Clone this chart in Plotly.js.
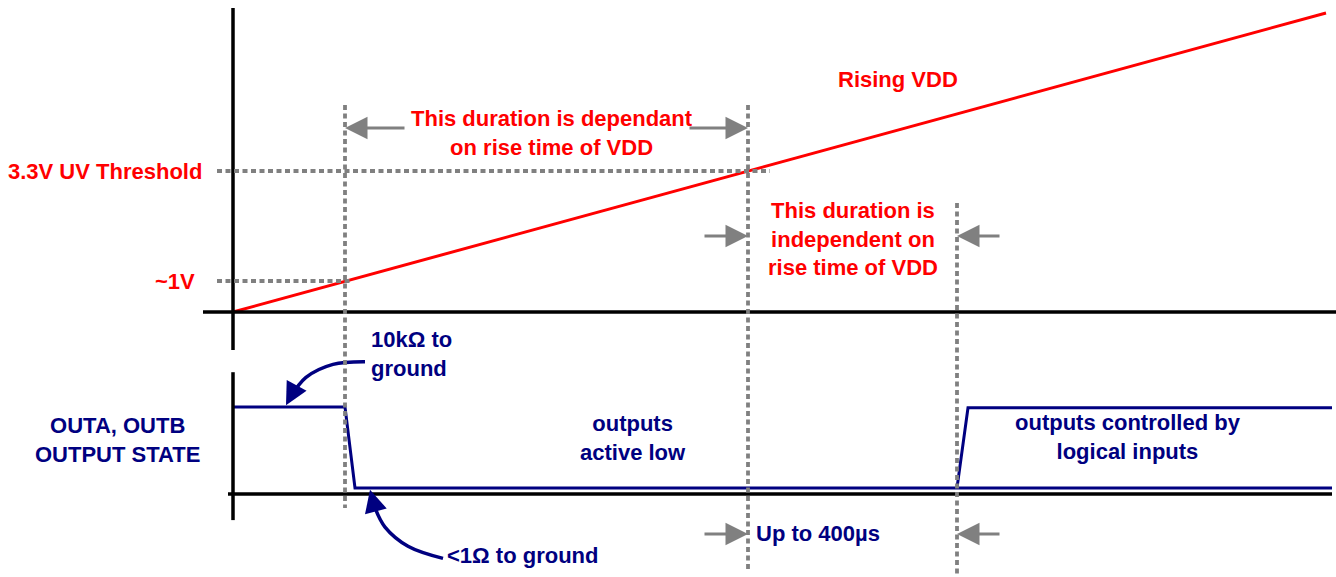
<!DOCTYPE html>
<html>
<head>
<meta charset="utf-8">
<script src="https://cdn.plot.ly/plotly-3.0.1.min.js"></script>
<style>html,body{margin:0;padding:0;background:#fff;}#chart{width:1336px;height:577px;}</style>
</head>
<body>
<div id="chart"></div>
<script>
// ---- data (arbitrary timing-diagram units) ----
const vddTime = [0, 1093];
const vddLevel = [0, 299];
const levelOneVolt = 31;      // ~1V
const levelUV = 141;          // 3.3V UV threshold
const eventTimes = [112, 515, 724]; // ~1V reached, UV threshold reached, outputs released
const outTimeA = [0, 112, 122, 1099];
const outStateA = [1, 1, 0.07, 0.07];
const outTimeB = [724, 735, 1099];
const outStateB = [0.07, 0.99, 0.99];
const curve10kTime = [132, 100, 73, 58];
const curve10kState = [1.52, 1.49, 1.34, 1.12];
const curve1OhmTime = [210, 175, 152, 142];
const curve1OhmState = [-0.74, -0.60, -0.38, -0.16];

const RED = '#ff0000', NAVY = '#000080', GRAY = '#808080', BLACK = '#000000';
const FONT = 'Liberation Sans, Arial, sans-serif';
const FS = 22;

const traces = [
  {x: vddTime, y: vddLevel, mode: 'lines', line: {color: RED, width: 3}, yaxis: 'y'},
  {x: outTimeA, y: outStateA, mode: 'lines', line: {color: NAVY, width: 3}, yaxis: 'y2'},
  {x: outTimeB, y: outStateB, mode: 'lines', line: {color: NAVY, width: 3}, yaxis: 'y2'},
  {x: curve10kTime, y: curve10kState, mode: 'lines', line: {color: NAVY, width: 3.5, shape: 'spline'}, yaxis: 'y2'},
  {x: curve1OhmTime, y: curve1OhmState, mode: 'lines', line: {color: NAVY, width: 3.5, shape: 'spline'}, yaxis: 'y2'}
];

const dashStyle = '5px,3.5px';
function hline(y0, x0, x1, color, width, dash, yref) {
  return {type: 'line', xref: 'x', yref: yref || 'y', x0: x0, x1: x1, y0: y0, y1: y0,
          line: {color: color, width: width, dash: dash || 'solid'}};
}
function vline(x0, y0, y1, color, width, dash, yref) {
  return {type: 'line', xref: 'x', yref: yref || 'y', x0: x0, x1: x0, y0: y0, y1: y1,
          line: {color: color, width: width, dash: dash || 'solid'}};
}

const shapes = [
  // VDD axes
  vline(0, -38, 304, BLACK, 3.5),
  hline(0, -30, 1103, BLACK, 3.5),
  // output axes
  vline(0, -0.30, 1.40, BLACK, 3.5, null, 'y2'),
  hline(0, -5, 1099, BLACK, 3.5, null, 'y2'),
  // threshold guides
  hline(levelUV, -16, 537, GRAY, 3.8, dashStyle),
  hline(levelOneVolt, -16, 117, GRAY, 3.8, dashStyle),
  // event markers
  vline(eventTimes[0], 207, -196, GRAY, 3.8, dashStyle),
  vline(eventTimes[1], 207, -260, GRAY, 3.8, dashStyle),
  vline(eventTimes[2], 109, -263, GRAY, 3.8, dashStyle)
];

function arrow(xTip, xTail, y, color) {
  return {x: xTip, y: y, ax: xTail, ay: y, xref: 'x', yref: 'y', axref: 'x', ayref: 'y',
          showarrow: true, arrowhead: 2, arrowsize: 1.5, arrowwidth: 3, arrowcolor: color || GRAY, text: ''};
}
function label(text, x, y, color, xanchor) {
  return {text: text, x: x, y: y, xref: 'x', yref: 'y', showarrow: false,
          xanchor: xanchor || 'center', yanchor: 'middle', align: xanchor === 'left' ? 'left' : (xanchor === 'right' ? 'right' : 'center'),
          font: {family: FONT, size: FS, color: color, weight: 'bold'}};
}

const annotations = [
  arrow(eventTimes[0], 173, 184),
  arrow(eventTimes[1], 455, 184),
  arrow(eventTimes[1], 470, 76),
  arrow(eventTimes[2], 768, 76),
  arrow(eventTimes[1], 470, -222),
  arrow(eventTimes[2], 768, -222),
  {x: 53, y: 1.02, ax: 60, ay: 1.17, xref: 'x', yref: 'y2', axref: 'x', ayref: 'y2',
   showarrow: true, arrowhead: 2, arrowsize: 1.5, arrowwidth: 3, arrowcolor: NAVY, text: ''},
  {x: 137, y: 0.05, ax: 141, ay: -0.12, xref: 'x', yref: 'y2', axref: 'x', ayref: 'y2',
   showarrow: true, arrowhead: 2, arrowsize: 1.5, arrowwidth: 3, arrowcolor: NAVY, text: ''},
  label('Rising VDD', 665, 233, RED),
  label('This duration is dependant<br>on rise time of VDD', 319, 179, RED),
  label('3.3V UV Threshold', -29, levelUV, RED, 'right'),
  label('~1V', -36, levelOneVolt, RED, 'right'),
  label('This duration is<br>independent on<br>rise time of VDD', 620, 73, RED),
  label('10kΩ to<br>ground', 136, -42, NAVY, 'left'),
  label('OUTA, OUTB<br>OUTPUT STATE', -116, -128, NAVY),
  label('outputs<br>active low', 400, -126, NAVY),
  label('outputs controlled by<br>logical inputs', 895, -125, NAVY),
  label('<1Ω to ground', 212, -243, NAVY, 'left'),
  label('Up to 400µs', 585, -221, NAVY)
];

const layout = {
  width: 1336, height: 577,
  margin: {l: 0, r: 0, t: 0, b: 0, pad: 0},
  paper_bgcolor: '#ffffff', plot_bgcolor: '#ffffff',
  showlegend: false,
  xaxis: {range: [-233, 1103], visible: false, fixedrange: true},
  yaxis: {range: [-265, 312], visible: false, fixedrange: true},
  yaxis2: {range: [-0.954, 5.678], visible: false, overlaying: 'y', fixedrange: true},
  shapes: shapes,
  annotations: annotations
};

Plotly.newPlot('chart', traces, layout, {staticPlot: true, displayModeBar: false});
</script>
</body>
</html>
